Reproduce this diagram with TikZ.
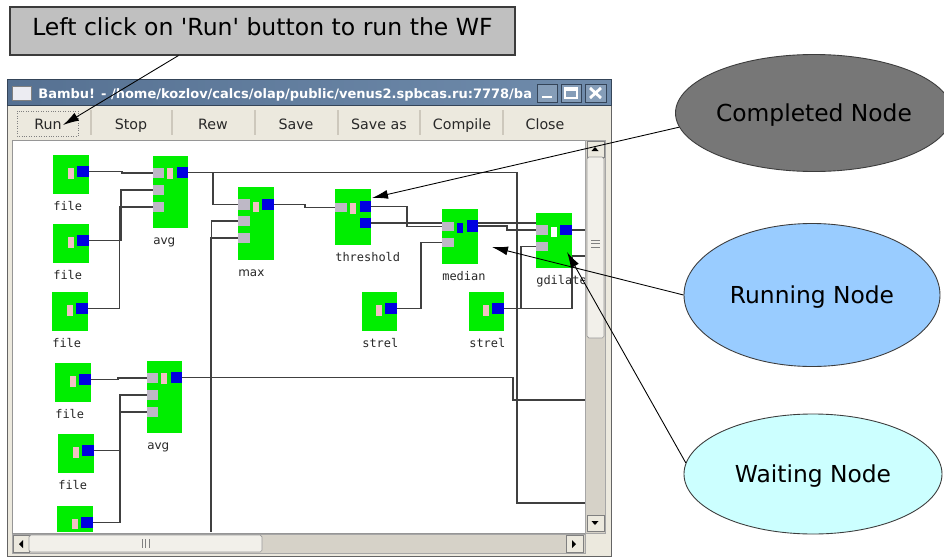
\documentclass[tikz,border=0pt]{standalone}
\usepackage{fontspec}
\setmainfont{DejaVu Sans}
\newfontfamily\monof{DejaVu Sans Mono}
\usetikzlibrary{shapes.geometric,arrows.meta,calc}
\definecolor{wfgreen}{RGB}{0,238,0}
\definecolor{wfblue}{RGB}{0,0,225}
\definecolor{wfgray}{RGB}{190,184,198}
\definecolor{wfpink}{RGB}{242,192,196}
\definecolor{wirec}{RGB}{64,64,64}
\definecolor{chromebg}{RGB}{236,233,222}
\definecolor{trackc}{RGB}{214,210,200}
\definecolor{thumbc}{RGB}{242,240,234}
\definecolor{titleA}{RGB}{86,113,146}
\definecolor{titleB}{RGB}{112,140,172}
\definecolor{calloutc}{RGB}{192,192,192}
\definecolor{complc}{RGB}{119,119,119}
\definecolor{runc}{RGB}{153,204,255}
\definecolor{waitc}{RGB}{204,255,255}
\definecolor{edgec}{RGB}{60,60,60}
\definecolor{btntext}{RGB}{40,40,40}
\definecolor{framec}{RGB}{100,100,100}
\definecolor{iconc}{RGB}{236,236,242}
\definecolor{sepc}{RGB}{205,200,188}
\definecolor{canvasedge}{RGB}{150,150,150}
\pgfdeclarelayer{chrome}
\pgfdeclarelayer{wirelayer}
\pgfsetlayers{chrome,wirelayer,main}
\newcommand\wfbox[6]{\node[#2,minimum width=#5*0.02cm,minimum height=#6*0.02cm] (#1) at ({#3+#5/2},{#4+#6/2}) {};}
\newcommand\fileblk[3]{%
  \wfbox{#1}{blk}{#2}{#3}{36}{39}
  \wfbox{#1p}{pport}{#2+15}{#3+13}{6}{11}
  \wfbox{#1o}{bport}{#2+24}{#3+11}{12}{11}
  \node[lblm] (#1l) at ({#2},{#3+55}) {file};}
\newcommand\avgblk[3]{%
  \wfbox{#1}{blk}{#2}{#3}{35}{72}
  \wfbox{#1i1}{gport}{#2}{#3+12}{11}{10}
  \wfbox{#1i2}{gport}{#2}{#3+29}{11}{10}
  \wfbox{#1i3}{gport}{#2}{#3+46}{11}{10}
  \wfbox{#1p}{pport}{#2+14}{#3+12}{6}{11}
  \wfbox{#1o}{bport}{#2+24}{#3+11}{11}{11}
  \node[lbls] (#1l) at ({#2},{#3+88}) {avg};}
\newcommand\strelblk[3]{%
  \wfbox{#1}{blk}{#2}{#3}{35}{39}
  \wfbox{#1p}{pport}{#2+14}{#3+13}{6}{11}
  \wfbox{#1o}{bport}{#2+23}{#3+11}{12}{11}
  \node[lblm] (#1l) at ({#2},{#3+55}) {strel};}
\tikzset{
  blk/.style={rectangle,fill=wfgreen,draw=none,inner sep=0pt,outer sep=0pt},
  gport/.style={blk,fill=wfgray},
  pport/.style={blk,fill=wfpink},
  bport/.style={blk,fill=wfblue},
  wport/.style={blk,fill=white},
  wire/.style={draw=wirec,line width=0.7pt},
  lblm/.style={anchor=base west,inner sep=0pt,text=btntext,font=\monof\fontsize{6.8pt}{8pt}\selectfont},
  lbls/.style={anchor=base west,inner sep=0pt,text=btntext,font=\fontsize{6.8pt}{8pt}\selectfont},
  tbtn/.style={anchor=base,inner sep=0pt,text=btntext,font=\fontsize{8.1pt}{10pt}\selectfont},
  state/.style={ellipse,draw=edgec,line width=0.5pt,inner sep=0pt,text depth=0pt,font=\fontsize{13.3pt}{16pt}\selectfont,text=black},
  callarr/.style={draw=black,line width=0.5pt,-{Latex[length=0.32cm,width=0.18cm]}},
}
\begin{document}
\begin{tikzpicture}[x=0.02cm,y=-0.02cm]
\useasboundingbox (0,0) rectangle (944,558);
\begin{pgfonlayer}{chrome}
\fill[white] (0,0) rectangle (944,558);
% window
\filldraw[fill=chromebg,draw=framec] (7,79) rectangle (611,556);
\shade[left color=titleA,right color=titleB] (7,79) rectangle (611,105);
\draw[titleA!60!black] (7,79) rectangle (611,105);
\filldraw[fill=iconc,draw=gray] (12,86) rectangle (31,100);
\node[anchor=base west,inner sep=0pt,text=white,font=\bfseries\fontsize{7.4pt}{9pt}\selectfont] (ttl) at (38,98) {Bambu! - /home/kozlov/calcs/olap/public/venus2.spbcas.ru:7778/ba};
\filldraw[fill=titleB!85!white,draw=titleA!60!black] (537,84) rectangle (557,102);
\draw[white,line width=1.5pt] (542,97) -- (552,97);
\filldraw[fill=titleB!85!white,draw=titleA!60!black] (561,84) rectangle (581,102);
\draw[white,line width=0.9pt] (565,88) rectangle (577,98);
\draw[white,line width=1.8pt] (565,89) -- (577,89);
\filldraw[fill=titleB!85!white,draw=titleA!60!black] (585,84) rectangle (606,102);
\draw[white,line width=1.6pt] (590,88) -- (601,98) (590,98) -- (601,88);
% toolbar
\draw[densely dotted,gray] (17,111) rectangle (78,136);
\foreach \s in {91,172,255,338,420,503}
  \draw[draw=sepc,line width=0.8pt] (\s,110) -- (\s,135);
\node[tbtn] (bRun) at (48,129.5) {Run};
\node[tbtn] (bStop) at (131,129.5) {Stop};
\node[tbtn] (bRew) at (213,129.5) {Rew};
\node[tbtn] (bSave) at (296,129.5) {Save};
\node[tbtn] (bSaveas) at (379,129.5) {Save as};
\node[tbtn] (bCompile) at (462,129.5) {Compile};
\node[tbtn] (bClose) at (545,129.5) {Close};
% canvas
\filldraw[fill=white,draw=canvasedge] (12,140) rectangle (585,533);
% vertical scrollbar
\filldraw[fill=trackc,draw=gray!70] (585,140) rectangle (605,533);
\filldraw[fill=chromebg,draw=gray] (587,141) rectangle (604,157);
\fill (591.5,151) -- (598.5,151) -- (595,147) -- cycle;
\filldraw[fill=thumbc,draw=gray!80,rounded corners=1pt] (587,157) rectangle (604,338);
\draw[gray] (591,240) -- (600,240) (591,243.5) -- (600,243.5) (591,247) -- (600,247);
\filldraw[fill=chromebg,draw=gray] (587,515) rectangle (604,531);
\fill (591.5,521) -- (598.5,521) -- (595,525) -- cycle;
% horizontal scrollbar
\filldraw[fill=trackc,draw=gray!70] (12,534) rectangle (585,553);
\filldraw[fill=chromebg,draw=gray] (13,535) rectangle (29,552);
\fill (19,544) -- (23,540) -- (23,548) -- cycle;
\filldraw[fill=thumbc,draw=gray!80,rounded corners=1pt] (29,535) rectangle (262,552);
\draw[gray] (142,539) -- (142,548) (145.5,539) -- (145.5,548) (149,539) -- (149,548);
\filldraw[fill=chromebg,draw=gray] (566,535) rectangle (583,552);
\fill (576,544) -- (572,540) -- (572,548) -- cycle;
\end{pgfonlayer}
% ---- workflow blocks
\fileblk{f1}{53}{155}
\fileblk{f2}{53}{224}
\fileblk{f3}{52}{292}
\fileblk{f4}{55}{363}
\fileblk{f5}{58}{434}
\wfbox{f6}{blk}{57}{506}{36}{26}
\wfbox{f6p}{pport}{72}{519}{6}{10}
\wfbox{f6o}{bport}{81}{517}{12}{11}
\avgblk{a1}{153}{156}
\avgblk{a2}{147}{361}
% max
\wfbox{mx}{blk}{238}{187}{36}{73}
\wfbox{mi1}{gport}{238}{199}{12}{11}
\wfbox{mi2}{gport}{238}{216}{12}{10}
\wfbox{mi3}{gport}{238}{233}{12}{10}
\wfbox{mp}{pport}{253}{202}{6}{10}
\wfbox{mo}{bport}{262}{199}{12}{11}
\node[lbls] (mxl) at (238,276) {max};
% threshold
\wfbox{th}{blk}{335}{189}{36}{56}
\wfbox{ti}{gport}{335}{203}{12}{9}
\wfbox{tp}{pport}{350}{203}{6}{11}
\wfbox{to1}{bport}{360}{201}{11}{11}
\wfbox{to2}{bport}{360}{218}{11}{10}
\node[lblm] (thl) at (335,261) {threshold};
% median
\wfbox{md}{blk}{442}{209}{36}{55}
\wfbox{mdi1}{gport}{442}{222}{12}{9}
\wfbox{mdi2}{gport}{442}{238}{12}{9}
\wfbox{mds}{bport}{457}{223}{6}{10}
\wfbox{mdo}{bport}{467}{220}{11}{12}
\node[lblm] (mdl) at (442,280) {median};
% gdilate
\wfbox{gd}{blk}{536}{213}{36}{55}
\wfbox{gi1}{gport}{536}{225}{12}{10}
\wfbox{gi2}{gport}{536}{242}{12}{9}
\wfbox{gw}{wport}{551}{227}{6}{10}
\wfbox{go}{bport}{560}{225}{12}{10}
\begin{scope}
\clip (13,141) rectangle (584,532);
\node[lblm] (gdl) at (536,284) {gdilate};
\end{scope}
\strelblk{s1}{362}{292}
\strelblk{s2}{469}{292}
% ---- wires
\coordinate (j1) at (213,172.5);
\coordinate (b1) at (211.5,532);
\coordinate (b2) at (210.5,532);
\coordinate (e1) at (585,503);
\coordinate (e2) at (585,256);
\coordinate (e3) at (585,230);
\coordinate (e4) at (585,400);
\begin{pgfonlayer}{wirelayer}
\draw[wire] (f1o.east) -- ++(33,0) |- (a1i1.west);
\draw[wire] (f2o.east) -| (121,190) -- (a1i2.west);
\draw[wire] (f3o.east) -| (119.5,207) -- (a1i3.west);
\draw[wire] (a1o.east) -| (517,503) -- (e1);
\draw[wire] (j1) |- (mi1.west);
\draw[wire] (b1) |- (mi2.west);
\draw[wire] (b2) |- (mi3.west);
\draw[wire] (mo.east) -- ++(31,0) |- (ti.west);
\draw[wire] (to1.east) -| (407,226.5) -- (mdi1.west);
\draw[wire] (to2.east) -- (to2.east -| gi1.west);
\draw[wire] (mdo.east) -- ++(29,0) |- (gi1.west);
\draw[wire] (s1o.east) -| (421,242.5) -- (mdi2.west);
\draw[wire] (s2o.east) -| (521,246.5) -- (gi2.west);
\draw[wire] (s2o.east) -| (572,256) -- (e2);
\draw[wire] (go.east) -- (e3);
\draw[wire] (f4o.east) -- ++(27,0) |- (a2i1.west);
\draw[wire] (f5o.east) -| (120,395) -- (a2i2.west);
\draw[wire] (f6o.east) -| (120,412) -- (a2i3.west);
\draw[wire] (a2o.east) -| (513,400) -- (e4);
\end{pgfonlayer}
% ---- callouts
\node[draw=edgec,fill=calloutc,line width=0.6pt,minimum width=505*0.02cm,minimum height=48*0.02cm,inner sep=0pt,text height=0.76em,text depth=0.3em,font=\fontsize{13.4pt}{16pt}\selectfont] (cl) at (262.5,31) {Left click on \textquotesingle Run\textquotesingle{} button to run the WF};
\node[state,fill=complc,minimum width=256*0.02cm,minimum height=117*0.02cm] (ce) at (814,113) {Completed Node};
\node[state,fill=runc,minimum width=256*0.02cm,minimum height=143*0.02cm] (re) at (812,295) {Running Node};
\node[state,fill=waitc,minimum width=258*0.02cm,minimum height=120*0.02cm] (we) at (813,474) {Waiting Node};
\coordinate (clfoot) at ($(cl.south west)+(169,0)$);
\coordinate (runtip) at (63,125);
\coordinate (ctip) at (372,198);
\coordinate (rtip) at (492,247);
\coordinate (wtip) at (567,252);
\draw[callarr] (clfoot) -- (runtip);
\draw[callarr] (ce.186) -- (ctip);
\draw[callarr] (re.west) -- (rtip);
\draw[callarr] (we.175) -- (wtip);
\end{tikzpicture}
\end{document}
